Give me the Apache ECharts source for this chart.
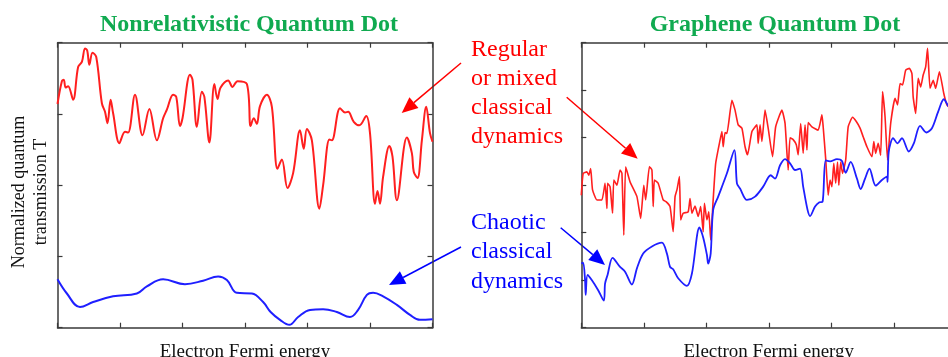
<!DOCTYPE html>
<html><head><meta charset="utf-8">
<script src="https://cdn.jsdelivr.net/npm/echarts@6/dist/echarts.min.js"></script>
<style>html,body{margin:0;padding:0;background:#fff;}#c{width:948px;height:357px;}</style>
</head><body><div id="c"></div>
<script>
// ---- data (x: Fermi energy, arbitrary units 0..6; y: normalized transmission) ----
var panelTitles = ['Nonrelativistic Quantum Dot', 'Graphene Quantum Dot'];
var xAxisName = 'Electron Fermi energy';
var yAxisName = 'Normalized quantum\ntransmission T';
var regularLabel = 'Regular\nor mixed\nclassical\ndynamics';
var chaoticLabel = 'Chaotic\nclassical\ndynamics';

var nrRegular = [[0,3.14],[0.07,3.46],[0.10,3.48],[0.13,3.37],[0.17,3.39],[0.25,3.20],[0.33,3.66],[0.39,3.73],[0.44,3.92],[0.475,3.89],[0.51,3.69],[0.56,3.86],[0.62,3.80],[0.71,3.15],[0.76,3.03],[0.80,2.87],[0.85,3.20],[0.89,3.01],[0.99,2.59],[1.08,2.75],[1.13,2.74],[1.24,3.27],[1.36,2.70],[1.47,3.07],[1.59,2.63],[1.69,2.94],[1.75,3.06],[1.85,3.27],[1.90,3.24],[1.96,2.83],[2.00,2.94],[2.12,3.55],[2.16,3.48],[2.23,2.82],[2.31,3.31],[2.35,3.24],[2.43,2.60],[2.51,3.42],[2.56,3.21],[2.61,3.37],[2.73,3.47],[2.80,3.38],[2.88,3.46],[3.03,3.42],[3.09,2.83],[3.14,2.94],[3.19,2.86],[3.24,3.11],[3.35,3.27],[3.43,3.10],[3.52,2.23],[3.59,2.36],[3.68,1.96],[3.77,2.17],[3.88,2.77],[3.94,2.51],[3.99,2.79],[4.07,2.63],[4.19,1.67],[4.25,2.00],[4.35,2.64],[4.39,2.63],[4.52,3.08],[4.60,3.02],[4.65,3.03],[4.74,2.89],[4.83,2.84],[4.94,2.97],[5.00,2.73],[5.08,1.74],[5.12,1.92],[5.16,1.74],[5.21,2.12],[5.31,2.55],[5.36,2.40],[5.43,1.79],[5.59,2.67],[5.67,2.45],[5.70,2.19],[5.76,2.10],[5.83,2.63],[5.90,3.10],[5.96,2.73],[6.00,2.61]];

var nrChaotic = [[0,0.68],[0.15,0.48],[0.36,0.29],[0.57,0.36],[0.89,0.44],[1.27,0.48],[1.43,0.58],[1.69,0.68],[2.04,0.61],[2.33,0.66],[2.57,0.72],[2.71,0.67],[2.87,0.49],[3.11,0.48],[3.29,0.36],[3.41,0.22],[3.56,0.11],[3.71,0.04],[3.85,0.15],[4.04,0.25],[4.25,0.26],[4.47,0.22],[4.68,0.15],[4.81,0.25],[4.95,0.46],[5.05,0.49],[5.21,0.44],[5.43,0.32],[5.64,0.18],[5.80,0.11],[6.00,0.12]];

var grRegular = [[0,2.79],[0.03,3.25],[0.09,3.28],[0.12,3.21],[0.15,3.35],[0.18,2.90],[0.25,2.69],[0.33,2.69],[0.38,3.04],[0.41,2.51],[0.42,3.04],[0.46,2.97],[0.50,2.41],[0.52,3.11],[0.57,3.00],[0.62,3.32],[0.65,3.25],[0.68,1.95],[0.71,3.39],[0.78,3.07],[0.89,2.76],[0.95,2.30],[1.00,3.00],[1.03,2.69],[1.09,3.39],[1.13,3.32],[1.15,2.55],[1.17,3.11],[1.23,3.04],[1.31,2.69],[1.36,2.65],[1.42,2.55],[1.47,2.02],[1.50,2.76],[1.53,2.90],[1.57,3.18],[1.59,2.27],[1.63,2.41],[1.71,2.44],[1.74,2.72],[1.77,2.41],[1.82,2.56],[1.87,2.34],[1.91,2.55],[1.95,2.02],[1.97,2.62],[2.01,2.27],[2.04,2.44],[2.07,1.85],[2.11,2.69],[2.15,3.46],[2.22,3.95],[2.25,4.13],[2.27,3.81],[2.30,4.11],[2.33,4.09],[2.41,4.79],[2.46,4.58],[2.51,4.27],[2.57,4.20],[2.62,3.81],[2.66,3.64],[2.73,4.13],[2.81,4.27],[2.83,3.88],[2.86,4.27],[2.89,3.92],[2.94,4.58],[2.99,4.20],[3.06,3.60],[3.11,4.23],[3.21,4.58],[3.26,4.30],[3.31,3.32],[3.34,4.00],[3.39,3.96],[3.44,3.85],[3.47,3.64],[3.51,4.30],[3.55,3.67],[3.58,4.27],[3.61,3.74],[3.63,4.32],[3.69,4.23],[3.79,4.16],[3.85,4.48],[3.87,4.23],[3.91,3.56],[3.95,2.79],[3.98,3.11],[4.01,2.97],[4.04,3.46],[4.07,3.04],[4.10,3.49],[4.12,3.00],[4.15,3.49],[4.18,3.25],[4.23,3.53],[4.27,4.23],[4.34,4.43],[4.40,4.34],[4.46,4.20],[4.51,4.02],[4.57,3.81],[4.65,3.60],[4.68,3.92],[4.71,3.67],[4.75,3.88],[4.79,3.63],[4.82,4.97],[4.86,4.44],[4.90,3.53],[4.95,4.30],[5.02,4.83],[5.06,4.69],[5.10,5.14],[5.14,5.11],[5.19,5.42],[5.25,5.46],[5.29,5.35],[5.31,4.86],[5.35,4.51],[5.39,5.25],[5.43,5.07],[5.47,5.32],[5.51,5.49],[5.54,5.88],[5.58,5.04],[5.63,5.21],[5.67,5.04],[5.73,5.39],[5.80,4.93],[5.85,4.69],[5.90,4.62]];

var grChaotic = [[0,1.35],[0.03,1.37],[0.06,1.00],[0.07,0.69],[0.10,1.11],[0.17,1.00],[0.27,0.79],[0.36,0.57],[0.38,0.93],[0.42,1.11],[0.50,1.47],[0.62,1.28],[0.70,1.18],[0.81,0.91],[0.89,1.25],[0.99,1.56],[1.13,1.71],[1.29,1.79],[1.37,1.56],[1.42,1.28],[1.47,1.23],[1.55,1.04],[1.69,0.88],[1.77,1.14],[1.89,2.11],[1.95,1.90],[2.01,1.53],[2.03,1.35],[2.07,1.56],[2.11,2.48],[2.19,2.76],[2.33,3.25],[2.45,3.74],[2.49,3.04],[2.54,2.93],[2.65,2.69],[2.78,2.76],[2.91,2.97],[3.03,3.21],[3.10,3.14],[3.18,3.42],[3.26,3.55],[3.34,3.46],[3.42,3.32],[3.50,3.35],[3.55,2.97],[3.62,2.48],[3.66,2.35],[3.74,2.55],[3.81,2.64],[3.86,2.65],[3.91,3.52],[3.98,3.50],[4.09,3.55],[4.17,3.51],[4.23,3.26],[4.31,3.49],[4.41,3.14],[4.47,2.92],[4.54,3.14],[4.61,3.35],[4.71,2.99],[4.81,3.11],[4.89,3.18],[4.90,3.07],[4.92,3.71],[4.99,3.99],[5.06,3.88],[5.13,3.99],[5.24,3.71],[5.32,3.88],[5.42,4.25],[5.52,4.11],[5.61,4.20],[5.71,4.55],[5.80,4.81],[5.87,4.67],[5.90,4.62]];

var xMax = 6, nrYMax = 4, grYMax = 6;

// ---- styles ----
var RED = '#ff1f1f', BLUE = '#1f1fff', GREEN = '#10aa50', AX = '#3a3a3a';
var SERIF = '"Liberation Serif","DejaVu Serif",serif';

function axisBase(extra) {
  var a = {
    type: 'value', min: 0, interval: 1,
    axisLine: {show: true, onZero: false, lineStyle: {color: AX, width: 1.5}},
    axisTick: {show: true, inside: true, length: 5, lineStyle: {color: AX, width: 1.2}},
    axisLabel: {show: false}, splitLine: {show: false}
  };
  for (var k in extra) a[k] = extra[k];
  return a;
}
var nameStyle = {fontFamily: SERIF, fontSize: 19, color: '#111'};

var G0 = {left: 57.5, top: 42.7, width: 375, height: 285, containLabel: false, outerBoundsMode: 'none'};
var G1 = {left: 581.3, top: 42.7, width: 375, height: 285, containLabel: false, outerBoundsMode: 'none'};

function arrow(x0, y0, x1, y1, color, headLen, headW) {
  var dx = x1 - x0, dy = y1 - y0, L = Math.sqrt(dx*dx + dy*dy);
  var ux = dx / L, uy = dy / L, px = -uy, py = ux;
  var bx = x1 - ux*headLen, by = y1 - uy*headLen;
  return [
    {type: 'line', shape: {x1: x0, y1: y0, x2: bx, y2: by}, style: {stroke: color, lineWidth: 1.5}},
    {type: 'polygon', shape: {points: [[x1, y1], [bx + px*headW/2, by + py*headW/2], [bx - px*headW/2, by - py*headW/2]]}, style: {fill: color}}
  ];
}

var graphics = [
  {type: 'text', x: 30, y: 192, rotation: Math.PI/2, style: {text: yAxisName, font: '18px ' + SERIF, fill: '#111', align: 'center', verticalAlign: 'middle', lineHeight: 22}},
  {type: 'text', x: 471, y: 35.5, style: {text: regularLabel, font: '24px ' + SERIF, fill: '#ff0000', align: 'left', verticalAlign: 'top', lineHeight: 29}},
  {type: 'text', x: 471, y: 207.5, style: {text: chaoticLabel, font: '24px ' + SERIF, fill: '#0000ff', align: 'left', verticalAlign: 'top', lineHeight: 29.5}}
].concat(arrow(461, 63, 401.7, 113, '#ff0000', 16, 14))
 .concat(arrow(566.7, 97.3, 637.7, 158.7, '#ff0000', 16, 14))
 .concat(arrow(461, 247, 389, 285, '#0000ff', 16, 14))
 .concat(arrow(560.7, 227.7, 605, 265, '#0000ff', 16, 14));

var chart = echarts.init(document.getElementById('c'), null, {renderer: 'canvas'});
chart.setOption({
  backgroundColor: '#fff',
  animation: false,
  title: [
    {text: panelTitles[0], left: 244, top: 8, textAlign: 'center', textStyle: {fontFamily: SERIF, fontWeight: 'bold', fontSize: 24, color: GREEN}},
    {text: panelTitles[1], left: 770, top: 8, textAlign: 'center', textStyle: {fontFamily: SERIF, fontWeight: 'bold', fontSize: 24, color: GREEN}}
  ],
  grid: [G0, G1],
  xAxis: [
    axisBase({gridIndex: 0, max: xMax, position: 'bottom', name: xAxisName, nameLocation: 'middle', nameGap: 15, nameTextStyle: nameStyle}),
    axisBase({gridIndex: 0, max: xMax, position: 'top'}),
    axisBase({gridIndex: 1, max: xMax, position: 'bottom', name: xAxisName, nameLocation: 'middle', nameGap: 15, nameTextStyle: nameStyle}),
    axisBase({gridIndex: 1, max: xMax, position: 'top'})
  ],
  yAxis: [
    axisBase({gridIndex: 0, max: nrYMax, position: 'left'}),
    axisBase({gridIndex: 0, max: nrYMax, position: 'right'}),
    axisBase({gridIndex: 1, max: grYMax, position: 'left'}),
    axisBase({gridIndex: 1, max: grYMax, position: 'right'})
  ],
  series: [
    {type: 'line', xAxisIndex: 0, yAxisIndex: 0, data: nrRegular, smooth: 0.35, showSymbol: false, lineStyle: {color: RED, width: 2}},
    {type: 'line', xAxisIndex: 0, yAxisIndex: 0, data: nrChaotic, smooth: 0.4, showSymbol: false, lineStyle: {color: BLUE, width: 2}},
    {type: 'line', xAxisIndex: 2, yAxisIndex: 2, data: grRegular, smooth: 0.15, showSymbol: false, lineStyle: {color: RED, width: 1.6}},
    {type: 'line', xAxisIndex: 2, yAxisIndex: 2, data: grChaotic, smooth: 0.3, showSymbol: false, lineStyle: {color: BLUE, width: 1.8}}
  ],
  graphic: graphics
});
</script></body></html>
